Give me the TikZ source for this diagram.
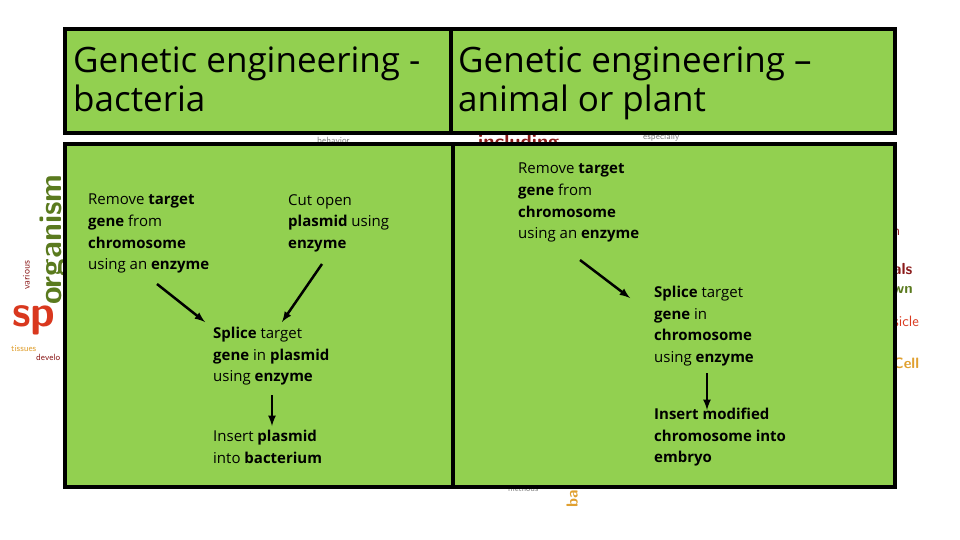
\documentclass[tikz,border=0pt]{standalone}
\usepackage{fontspec}
\setmainfont{Open Sans}
\definecolor{gr}{HTML}{92D050}
\definecolor{cred}{HTML}{D9381E}
\definecolor{cgreen}{HTML}{5A7A1E}
\definecolor{cdred}{HTML}{8B1A1A}
\definecolor{corange}{HTML}{E0A030}
\begin{document}
\begin{tikzpicture}[x=1pt,y=-1pt,
  box/.style={draw=black,line width=4pt,fill=gr},
  txt/.style={anchor=north west,inner sep=0pt,align=left,font=\fontsize{15}{21.6}\selectfont},
  ttl/.style={anchor=north west,inner sep=0pt,align=left,font=\fontsize{35}{39}\selectfont},
  arr/.style={-latex,line width=2.5pt},
  bg/.style={inner sep=0pt,font=\sffamily\bfseries}]
\useasboundingbox (0,0) rectangle (960,540);
\fill[white] (0,0) rectangle (960,540);
% background word-cloud fragments
\node[bg,rotate=90,text=cgreen,font=\sffamily\bfseries\fontsize{32}{32}\selectfont,anchor=south west] (w1) at (68,305) {organism};
\node[bg,rotate=90,text=cdred,font=\sffamily\fontsize{10}{10}\selectfont,anchor=south west] (w2) at (30,290) {various};
\node[bg,text=cred,font=\sffamily\bfseries\fontsize{44}{44}\selectfont,anchor=south west] (w3) at (12,335) {sp};
\node[bg,text=corange,font=\sffamily\fontsize{9}{9}\selectfont,anchor=west] (w4) at (11,349) {tissues};
\node[bg,text=cdred,font=\sffamily\fontsize{9}{9}\selectfont,anchor=west] (w5) at (36,357) {develo};
\node[bg,text=gray,font=\sffamily\fontsize{9}{9}\selectfont,anchor=west] (w6) at (317,140) {behavior};
\node[bg,text=cdred,font=\sffamily\bfseries\fontsize{20}{20}\selectfont,anchor=north west] (w7) at (478,134) {including};
\node[bg,text=gray,font=\sffamily\fontsize{9}{9}\selectfont,anchor=west] (w8) at (643,137) {especially};
\node[bg,text=cdred,font=\sffamily\fontsize{14}{14}\selectfont,anchor=west] (w9) at (893,232) {n};
\node[bg,text=cdred,font=\sffamily\bfseries\fontsize{16}{16}\selectfont,anchor=west] (w10) at (893,269) {als};
\node[bg,text=cgreen,font=\sffamily\bfseries\fontsize{15}{15}\selectfont,anchor=west] (w11) at (893,290) {wn};
\node[bg,text=cred,font=\sffamily\fontsize{15}{15}\selectfont,anchor=west] (w12) at (893,321) {sicle};
\node[bg,text=corange,font=\sffamily\bfseries\fontsize{15}{15}\selectfont,anchor=west] (w13) at (893,363) {Cell};
\node[bg,rotate=90,text=corange,font=\sffamily\bfseries\fontsize{16}{16}\selectfont,anchor=south west] (w14) at (578,508) {ba};
\node[bg,text=gray,font=\sffamily\fontsize{8}{8}\selectfont,anchor=west] (w15) at (508,489) {methods};
% boxes
\draw[box] (65,29) rectangle (895,133);
\draw[line width=4pt] (451,29) -- (451,133);
\draw[box] (65,144) rectangle (895,487);
\draw[line width=4pt] (453,144) -- (453,487);
% titles
\node[ttl] (t1) at (73,47) {Genetic engineering -\\bacteria};
\node[ttl] (t2) at (458,47) {Genetic engineering –\\animal or plant};
% left column
\node[txt] (a1) at (88,194) {Remove \textbf{target}\\\textbf{gene} from\\\textbf{chromosome}\\using an \textbf{enzyme}};
\node[txt] (a2) at (288,194) {Cut open\\\textbf{plasmid} using\\\textbf{enzyme}};
\node[txt] (a3) at (213,327) {\textbf{Splice} target\\\textbf{gene} in \textbf{plasmid}\\using \textbf{enzyme}};
\node[txt] (a4) at (213,430) {Insert \textbf{plasmid}\\into \textbf{bacterium}};
\coordinate (p1) at (157,284);
\coordinate (p2) at (205,322);
\coordinate (p3) at (322,264);
\coordinate (p4) at (282,322);
\coordinate (p5) at (272,395);
\coordinate (p6) at (272,426);
\draw[arr] (p1) -- (p2);
\draw[arr] (p3) -- (p4);
\draw[arr] (p5) -- (p6);
% right column
\node[txt] (b1) at (518,163) {Remove \textbf{target}\\\textbf{gene} from\\\textbf{chromosome}\\using an \textbf{enzyme}};
\node[txt] (b2) at (654,286) {\textbf{Splice} target\\\textbf{gene} in\\\textbf{chromosome}\\using \textbf{enzyme}};
\node[txt] (b3) at (654,408) {\textbf{Insert modified}\\\textbf{chromosome into}\\\textbf{embryo}};
\coordinate (q1) at (580,260);
\coordinate (q2) at (630,298);
\coordinate (q3) at (707,373);
\coordinate (q4) at (707,410);
\draw[arr] (q1) -- (q2);
\draw[arr] (q3) -- (q4);
\end{tikzpicture}
\end{document}
